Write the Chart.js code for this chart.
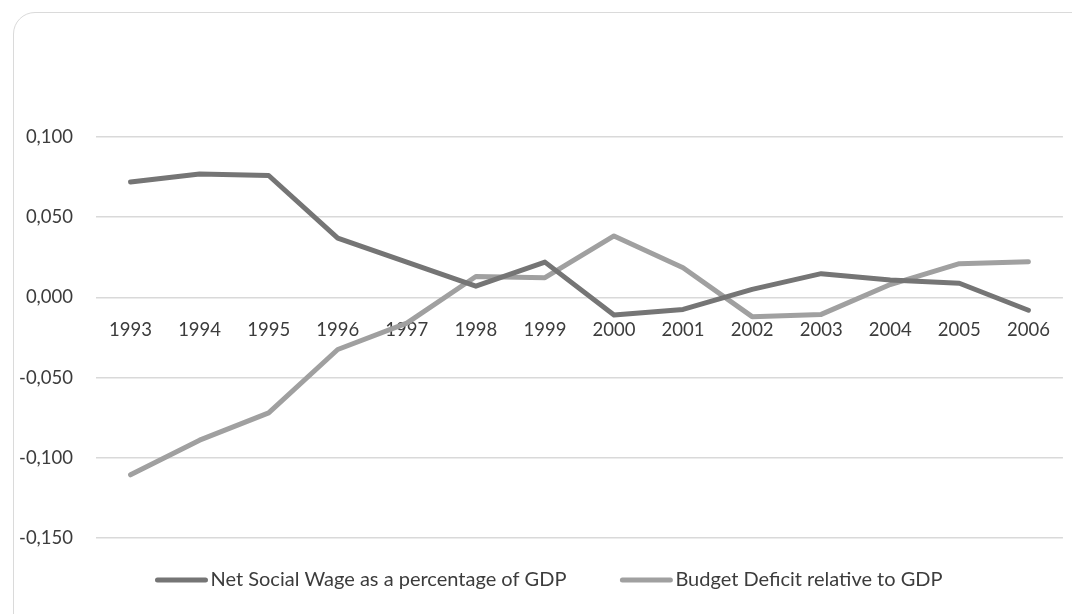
<!DOCTYPE html>
<html>
<head>
<meta charset="utf-8">
<script src="https://cdn.jsdelivr.net/npm/chart.js@4.4.1/dist/chart.umd.min.js"></script>
<style>
  html, body { margin: 0; padding: 0; background: #ffffff; overflow: hidden; }
  #wrap { position: relative; width: 1072px; height: 614px; }
  #frame {
    position: absolute; left: 13px; top: 12px; width: 1085px; height: 625px;
    border: 1.5px solid #dadada; border-radius: 22px; box-sizing: border-box;
  }
  #c { position: absolute; left: 0; top: 0; }
</style>
</head>
<body>
<div id="wrap">
  <div id="frame"></div>
  <canvas id="c" width="1072" height="614"></canvas>
</div>
<script>
// Years on the category axis
const years = ['1993', '1994', '1995', '1996', '1997', '1998', '1999',
               '2000', '2001', '2002', '2003', '2004', '2005', '2006'];

// Net social wage as a share of GDP
const netSocialWage = [0.072, 0.077, 0.076, 0.037, 0.022, 0.007, 0.022,
                       -0.011, -0.0075, 0.005, 0.0148, 0.0108, 0.0088, -0.008];

// Budget deficit relative to GDP
const budgetDeficit = [-0.1106, -0.089, -0.072, -0.0325, -0.016, 0.013, 0.0123,
                       0.0383, 0.0185, -0.012, -0.0106, 0.008, 0.021, 0.0223];

const seriesNames = ['Net Social Wage as a percentage of GDP', 'Budget Deficit relative to GDP'];
const seriesColors = ['#757575', '#a0a0a0'];

// Value-axis tick positions
const yTicks = [-0.15, -0.1, -0.05, 0, 0.05, 0.1];

const FONT = 'Lato, "Open Sans", sans-serif';
const FONT_SIZE = 18.5;
const LEGEND_FONT_SIZE = 20;
const TEXT_COLOR = '#3c3c3c';

function fmt(v) {
  if (Math.abs(v) < 1e-9) v = 0;
  return v.toFixed(3).replace('.', ',');
}

// Legend drawn below the plot: short thick line sample followed by the label
const bottomLegend = {
  id: 'bottomLegend',
  afterDraw(chart) {
    const ctx = chart.ctx;
    const sampleW = 52, gapText = 3, gapItem = 54, cy = 580, centerX = 549;
    ctx.save();
    ctx.font = LEGEND_FONT_SIZE + 'px ' + FONT;
    const items = chart.data.datasets.map(ds => ({
      label: ds.label, color: ds.borderColor, w: sampleW + gapText + ctx.measureText(ds.label).width
    }));
    const total = items.reduce((s, it) => s + it.w, 0) + gapItem * (items.length - 1);
    let x = centerX - total / 2;
    items.forEach(it => {
      ctx.strokeStyle = it.color;
      ctx.lineWidth = 5;
      ctx.lineCap = 'round';
      ctx.beginPath();
      ctx.moveTo(x + 2, cy);
      ctx.lineTo(x + sampleW - 2, cy);
      ctx.stroke();
      ctx.fillStyle = TEXT_COLOR;
      ctx.textBaseline = 'middle';
      ctx.textAlign = 'left';
      ctx.fillText(it.label, x + sampleW + gapText, cy);
      x += it.w + gapItem;
    });
    ctx.restore();
  }
};

new Chart(document.getElementById('c'), {
  type: 'line',
  data: {
    labels: years,
    datasets: [
      { label: seriesNames[0], data: netSocialWage, borderColor: seriesColors[0], backgroundColor: seriesColors[0] },
      { label: seriesNames[1], data: budgetDeficit, borderColor: seriesColors[1], backgroundColor: seriesColors[1] }
    ]
  },
  options: {
    responsive: false,
    devicePixelRatio: 1,
    animation: false,
    layout: { padding: { top: 137, bottom: 76, left: 0, right: 4 } },
    elements: {
      line: { borderWidth: 5, tension: 0, borderJoinStyle: 'round', borderCapStyle: 'round' },
      point: { radius: 0, hoverRadius: 0 }
    },
    plugins: { legend: { display: false }, tooltip: { enabled: false } },
    scales: {
      x: {
        type: 'category',
        position: { y: 0 },
        offset: true,
        grid: { display: false, drawTicks: false },
        border: { display: false },
        ticks: {
          padding: 22,
          maxRotation: 0,
          autoSkip: false,
          color: TEXT_COLOR,
          font: { family: FONT, size: FONT_SIZE }
        },
        afterFit(scale) { scale.height = 0; }
      },
      y: {
        min: -0.15,
        max: 0.1,
        afterBuildTicks(scale) { scale.ticks = yTicks.map(v => ({ value: v })); },
        afterFit(scale) { scale.width = 96; },
        grid: { color: '#d9d9d9', lineWidth: 1.5, drawTicks: false },
        border: { display: false },
        ticks: {
          padding: 23,
          color: TEXT_COLOR,
          font: { family: FONT, size: FONT_SIZE },
          callback: v => fmt(v)
        }
      }
    }
  },
  plugins: [bottomLegend]
});
</script>
</body>
</html>
